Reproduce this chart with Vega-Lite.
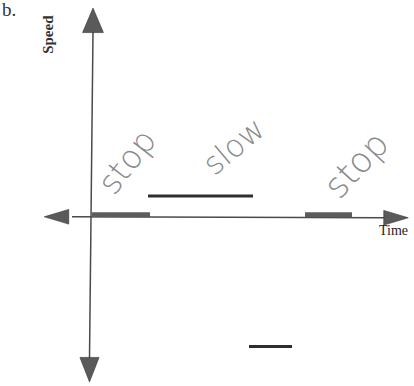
{
  "$schema": "https://vega.github.io/schema/vega-lite/v6.json",
  "width": 414,
  "height": 386,
  "autosize": {"type": "fit", "contains": "padding"},
  "padding": 0,
  "background": "white",
  "config": {"view": {"stroke": null}},
  "datasets": {
    "axisLines": [
      {"name": "speed", "x": 0.05, "y": 9.3, "x2": -0.125, "y2": -7.2},
      {"name": "time", "x": -1.0, "y": -0.05, "x2": 14.6, "y2": -0.1}
    ],
    "arrowHeads": [
      {"dir": "up", "x": 0.05, "y": 9.875},
      {"dir": "down", "x": -0.125, "y": -7.775},
      {"dir": "left", "x": -1.775, "y": -0.05},
      {"dir": "right", "x": 15.2, "y": -0.1}
    ],
    "segments": [
      {"label": "stop", "t0": 0, "t1": 2.9, "speed": 0.05, "kind": "stop"},
      {"label": "slow", "t0": 2.8, "t1": 8.05, "speed": 1.0, "kind": "slow"},
      {"label": "stop", "t0": 10.65, "t1": 13.0, "speed": 0.05, "kind": "stop"},
      {"label": "", "t0": 7.85, "t1": 10.0, "speed": -6.6, "kind": "slow"}
    ],
    "notes": [
      {"text": "stop", "x": 1.8, "y": 2.7, "angle": -52},
      {"text": "slow", "x": 7.15, "y": 3.45, "angle": -40},
      {"text": "stop", "x": 13.25, "y": 2.55, "angle": -47}
    ]
  },
  "layer": [
    {
      "data": {"name": "axisLines"},
      "mark": {"type": "rule", "color": "#4a4a4a", "strokeWidth": 1.5},
      "encoding": {
        "x": {"field": "x", "type": "quantitative", "scale": {"domain": [-4.6, 16.1], "nice": false, "zero": false}, "axis": null},
        "y": {"field": "y", "type": "quantitative", "scale": {"domain": [-8.6, 10.7], "nice": false, "zero": false}, "axis": null},
        "x2": {"field": "x2"},
        "y2": {"field": "y2"}
      }
    },
    {
      "data": {"name": "arrowHeads"},
      "mark": {"type": "point", "filled": true, "color": "#5a5a5a", "opacity": 1, "size": 600, "stroke": "#333", "strokeWidth": 0.6},
      "encoding": {
        "x": {"field": "x", "type": "quantitative"},
        "y": {"field": "y", "type": "quantitative"},
        "shape": {
          "field": "dir",
          "type": "nominal",
          "legend": null,
          "scale": {
            "domain": ["up", "down", "left", "right"],
            "range": [
              "M0,-1L0.85,1L-0.85,1Z",
              "M0,1L0.78,-1L-0.78,-1Z",
              "M-1,0L1,-0.6L1,0.6Z",
              "M1,0L-1,-0.6L-1,0.6Z"
            ]
          }
        }
      }
    },
    {
      "data": {"name": "segments"},
      "mark": {"type": "rule", "color": "#3a3a3a"},
      "encoding": {
        "x": {"field": "t0", "type": "quantitative"},
        "x2": {"field": "t1"},
        "y": {"field": "speed", "type": "quantitative"},
        "strokeWidth": {
          "field": "kind",
          "type": "nominal",
          "legend": null,
          "scale": {"domain": ["stop", "slow"], "range": [5, 3]}
        },
        "color": {
          "field": "kind",
          "type": "nominal",
          "legend": null,
          "scale": {"domain": ["stop", "slow"], "range": ["#5c5c5c", "#2e2e2e"]}
        }
      }
    },
    {
      "data": {"name": "notes"},
      "transform": [{"filter": "datum.angle < -50"}],
      "mark": {"type": "text", "font": "DejaVu Sans", "fontWeight": 200, "fontSize": 33, "color": "#8a8a8a", "angle": -52, "align": "center", "baseline": "middle"},
      "encoding": {
        "x": {"field": "x", "type": "quantitative"},
        "y": {"field": "y", "type": "quantitative"},
        "text": {"field": "text"}
      }
    },
    {
      "data": {"name": "notes"},
      "transform": [{"filter": "datum.angle == -40"}],
      "mark": {"type": "text", "font": "DejaVu Sans", "fontWeight": 200, "fontSize": 31, "color": "#8a8a8a", "angle": -40, "align": "center", "baseline": "middle"},
      "encoding": {
        "x": {"field": "x", "type": "quantitative"},
        "y": {"field": "y", "type": "quantitative"},
        "text": {"field": "text"}
      }
    },
    {
      "data": {"name": "notes"},
      "transform": [{"filter": "datum.angle == -47"}],
      "mark": {"type": "text", "font": "DejaVu Sans", "fontWeight": 200, "fontSize": 35, "color": "#8a8a8a", "angle": -47, "align": "center", "baseline": "middle"},
      "encoding": {
        "x": {"field": "x", "type": "quantitative"},
        "y": {"field": "y", "type": "quantitative"},
        "text": {"field": "text"}
      }
    },
    {
      "data": {"values": [{"text": "Speed", "x": -2.2, "y": 9.15}]},
      "mark": {"type": "text", "font": "Liberation Serif", "fontWeight": "bold", "fontSize": 15, "color": "#333", "angle": 270, "align": "center", "baseline": "middle"},
      "encoding": {
        "x": {"field": "x", "type": "quantitative"},
        "y": {"field": "y", "type": "quantitative"},
        "text": {"field": "text"}
      }
    },
    {
      "data": {"values": [{"text": "Time", "x": 14.35, "y": -0.75}]},
      "mark": {"type": "text", "font": "Liberation Serif", "fontSize": 14, "color": "#222", "align": "left", "baseline": "middle"},
      "encoding": {
        "x": {"field": "x", "type": "quantitative"},
        "y": {"field": "y", "type": "quantitative"},
        "text": {"field": "text"}
      }
    },
    {
      "data": {"values": [{"text": "b.", "x": -4.5, "y": 10.4}]},
      "mark": {"type": "text", "font": "Liberation Serif", "fontSize": 19, "color": "#333", "align": "left", "baseline": "middle"},
      "encoding": {
        "x": {"field": "x", "type": "quantitative"},
        "y": {"field": "y", "type": "quantitative"},
        "text": {"field": "text"}
      }
    }
  ]
}
